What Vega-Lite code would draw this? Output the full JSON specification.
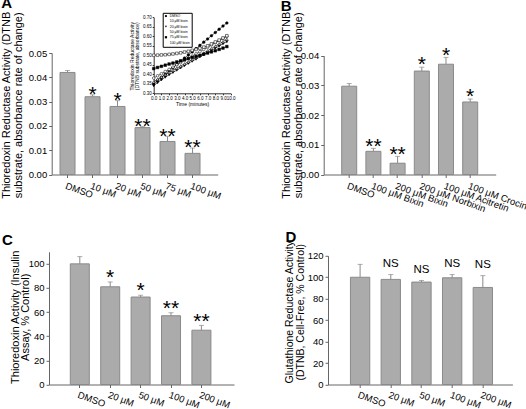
{
  "$schema": "https://vega.github.io/schema/vega-lite/v6.json",
  "padding": {"left": 0, "top": -5, "right": 0, "bottom": 0},
  "background": "white",
  "config": {
    "font": "Liberation Sans",
    "view": {"stroke": null},
    "axis": {"grid": false, "labelOverlap": false, "labelBound": false, "tickCount": 30, "domainColor": "#666", "tickColor": "#666", "labelColor": "black", "titleColor": "black", "labelFont": "Liberation Sans", "titleFont": "Liberation Sans", "titleFontWeight": "normal", "tickSize": 3, "labelFontSize": 9.5, "titleFontSize": 11, "titleAngle": -90, "titleAlign": "center", "titleBaseline": "bottom"},
    "axisX": {"titleAngle": 0, "titleBaseline": "top"},
    "title": {"font": "Liberation Sans", "fontWeight": "bold", "fontSize": 15, "anchor": "start", "frame": "group", "baseline": "alphabetic", "color": "black"}
  },
  "datasets": {
    "a": [
      {"label": "DMSO", "value": 0.0420, "err": 0.0428, "sig": ""},
      {"label": "10 μM", "value": 0.0320, "err": 0.0328, "sig": "*"},
      {"label": "20 μM", "value": 0.0280, "err": 0.0304, "sig": "*"},
      {"label": "50 μM", "value": 0.0193, "err": 0.0197, "sig": "**"},
      {"label": "75 μM", "value": 0.0136, "err": 0.0157, "sig": "**"},
      {"label": "100 μM", "value": 0.0087, "err": 0.0109, "sig": "**"}
    ],
    "b": [
      {"label": "DMSO", "value": 0.0297, "err": 0.0306, "sig": ""},
      {"label": "100 μM Bixin", "value": 0.0078, "err": 0.0088, "sig": "**"},
      {"label": "200 μM Bixin", "value": 0.0038, "err": 0.0061, "sig": "**"},
      {"label": "200 μM Norbixin", "value": 0.0348, "err": 0.0361, "sig": "*"},
      {"label": "100 μM Acitretin", "value": 0.0371, "err": 0.0394, "sig": "*"},
      {"label": "100 μM Crocin", "value": 0.0244, "err": 0.0254, "sig": "*"}
    ],
    "c": [
      {"label": "DMSO", "value": 100, "err": 106, "sig": ""},
      {"label": "20 μM", "value": 81, "err": 85, "sig": "*"},
      {"label": "50 μM", "value": 72.5, "err": 74, "sig": "*"},
      {"label": "100 μM", "value": 57, "err": 59.5, "sig": "**"},
      {"label": "200 μM", "value": 45, "err": 49, "sig": "**"}
    ],
    "d": [
      {"label": "DMSO", "value": 100, "err": 112, "sig": ""},
      {"label": "20 μM", "value": 98, "err": 102.5, "sig": "NS"},
      {"label": "50 μM", "value": 95.5, "err": 97, "sig": "NS"},
      {"label": "100 μM", "value": 99.5, "err": 102.5, "sig": "NS"},
      {"label": "200 μM", "value": 90.5, "err": 101.5, "sig": "NS"}
    ],
    "inset": [
      {"s": "DMSO", "t": 0, "v": 0.350}, {"s": "DMSO", "t": 0.5, "v": 0.367}, {"s": "DMSO", "t": 1, "v": 0.384}, {"s": "DMSO", "t": 1.5, "v": 0.400}, {"s": "DMSO", "t": 2, "v": 0.417}, {"s": "DMSO", "t": 2.5, "v": 0.434}, {"s": "DMSO", "t": 3, "v": 0.451}, {"s": "DMSO", "t": 3.5, "v": 0.468}, {"s": "DMSO", "t": 4, "v": 0.485}, {"s": "DMSO", "t": 4.5, "v": 0.502}, {"s": "DMSO", "t": 5, "v": 0.518}, {"s": "DMSO", "t": 5.5, "v": 0.535}, {"s": "DMSO", "t": 6, "v": 0.552}, {"s": "DMSO", "t": 6.5, "v": 0.569}, {"s": "DMSO", "t": 7, "v": 0.586}, {"s": "DMSO", "t": 7.5, "v": 0.603}, {"s": "DMSO", "t": 8, "v": 0.620}, {"s": "DMSO", "t": 8.5, "v": 0.637}, {"s": "DMSO", "t": 9, "v": 0.654}, {"s": "DMSO", "t": 9.5, "v": 0.670},
      {"s": "10 μM bixin", "t": 0, "v": 0.380}, {"s": "10 μM bixin", "t": 0.5, "v": 0.392}, {"s": "10 μM bixin", "t": 1, "v": 0.403}, {"s": "10 μM bixin", "t": 1.5, "v": 0.415}, {"s": "10 μM bixin", "t": 2, "v": 0.426}, {"s": "10 μM bixin", "t": 2.5, "v": 0.438}, {"s": "10 μM bixin", "t": 3, "v": 0.450}, {"s": "10 μM bixin", "t": 3.5, "v": 0.461}, {"s": "10 μM bixin", "t": 4, "v": 0.473}, {"s": "10 μM bixin", "t": 4.5, "v": 0.484}, {"s": "10 μM bixin", "t": 5, "v": 0.496}, {"s": "10 μM bixin", "t": 5.5, "v": 0.508}, {"s": "10 μM bixin", "t": 6, "v": 0.519}, {"s": "10 μM bixin", "t": 6.5, "v": 0.531}, {"s": "10 μM bixin", "t": 7, "v": 0.542}, {"s": "10 μM bixin", "t": 7.5, "v": 0.554}, {"s": "10 μM bixin", "t": 8, "v": 0.566}, {"s": "10 μM bixin", "t": 8.5, "v": 0.577}, {"s": "10 μM bixin", "t": 9, "v": 0.589}, {"s": "10 μM bixin", "t": 9.5, "v": 0.600},
      {"s": "20 μM bixin", "t": 0, "v": 0.340}, {"s": "20 μM bixin", "t": 0.5, "v": 0.356}, {"s": "20 μM bixin", "t": 1, "v": 0.371}, {"s": "20 μM bixin", "t": 1.5, "v": 0.385}, {"s": "20 μM bixin", "t": 2, "v": 0.398}, {"s": "20 μM bixin", "t": 2.5, "v": 0.410}, {"s": "20 μM bixin", "t": 3, "v": 0.422}, {"s": "20 μM bixin", "t": 3.5, "v": 0.434}, {"s": "20 μM bixin", "t": 4, "v": 0.446}, {"s": "20 μM bixin", "t": 4.5, "v": 0.458}, {"s": "20 μM bixin", "t": 5, "v": 0.469}, {"s": "20 μM bixin", "t": 5.5, "v": 0.480}, {"s": "20 μM bixin", "t": 6, "v": 0.492}, {"s": "20 μM bixin", "t": 6.5, "v": 0.503}, {"s": "20 μM bixin", "t": 7, "v": 0.514}, {"s": "20 μM bixin", "t": 7.5, "v": 0.526}, {"s": "20 μM bixin", "t": 8, "v": 0.538}, {"s": "20 μM bixin", "t": 8.5, "v": 0.549}, {"s": "20 μM bixin", "t": 9, "v": 0.561}, {"s": "20 μM bixin", "t": 9.5, "v": 0.572},
      {"s": "50 μM bixin", "t": 0, "v": 0.360}, {"s": "50 μM bixin", "t": 0.5, "v": 0.374}, {"s": "50 μM bixin", "t": 1, "v": 0.386}, {"s": "50 μM bixin", "t": 1.5, "v": 0.398}, {"s": "50 μM bixin", "t": 2, "v": 0.410}, {"s": "50 μM bixin", "t": 2.5, "v": 0.421}, {"s": "50 μM bixin", "t": 3, "v": 0.432}, {"s": "50 μM bixin", "t": 3.5, "v": 0.443}, {"s": "50 μM bixin", "t": 4, "v": 0.455}, {"s": "50 μM bixin", "t": 4.5, "v": 0.466}, {"s": "50 μM bixin", "t": 5, "v": 0.478}, {"s": "50 μM bixin", "t": 5.5, "v": 0.489}, {"s": "50 μM bixin", "t": 6, "v": 0.501}, {"s": "50 μM bixin", "t": 6.5, "v": 0.512}, {"s": "50 μM bixin", "t": 7, "v": 0.524}, {"s": "50 μM bixin", "t": 7.5, "v": 0.536}, {"s": "50 μM bixin", "t": 8, "v": 0.548}, {"s": "50 μM bixin", "t": 8.5, "v": 0.560}, {"s": "50 μM bixin", "t": 9, "v": 0.572}, {"s": "50 μM bixin", "t": 9.5, "v": 0.585},
      {"s": "75 μM bixin", "t": 0, "v": 0.430}, {"s": "75 μM bixin", "t": 0.5, "v": 0.436}, {"s": "75 μM bixin", "t": 1, "v": 0.442}, {"s": "75 μM bixin", "t": 1.5, "v": 0.448}, {"s": "75 μM bixin", "t": 2, "v": 0.454}, {"s": "75 μM bixin", "t": 2.5, "v": 0.459}, {"s": "75 μM bixin", "t": 3, "v": 0.465}, {"s": "75 μM bixin", "t": 3.5, "v": 0.471}, {"s": "75 μM bixin", "t": 4, "v": 0.477}, {"s": "75 μM bixin", "t": 4.5, "v": 0.483}, {"s": "75 μM bixin", "t": 5, "v": 0.489}, {"s": "75 μM bixin", "t": 5.5, "v": 0.494}, {"s": "75 μM bixin", "t": 6, "v": 0.500}, {"s": "75 μM bixin", "t": 6.5, "v": 0.506}, {"s": "75 μM bixin", "t": 7, "v": 0.512}, {"s": "75 μM bixin", "t": 7.5, "v": 0.518}, {"s": "75 μM bixin", "t": 8, "v": 0.524}, {"s": "75 μM bixin", "t": 8.5, "v": 0.531}, {"s": "75 μM bixin", "t": 9, "v": 0.538}, {"s": "75 μM bixin", "t": 9.5, "v": 0.546},
      {"s": "100 μM bixin", "t": 0, "v": 0.500}, {"s": "100 μM bixin", "t": 0.5, "v": 0.501}, {"s": "100 μM bixin", "t": 1, "v": 0.502}, {"s": "100 μM bixin", "t": 1.5, "v": 0.503}, {"s": "100 μM bixin", "t": 2, "v": 0.505}, {"s": "100 μM bixin", "t": 2.5, "v": 0.507}, {"s": "100 μM bixin", "t": 3, "v": 0.510}, {"s": "100 μM bixin", "t": 3.5, "v": 0.513}, {"s": "100 μM bixin", "t": 4, "v": 0.517}, {"s": "100 μM bixin", "t": 4.5, "v": 0.521}, {"s": "100 μM bixin", "t": 5, "v": 0.526}, {"s": "100 μM bixin", "t": 5.5, "v": 0.531}, {"s": "100 μM bixin", "t": 6, "v": 0.537}, {"s": "100 μM bixin", "t": 6.5, "v": 0.543}, {"s": "100 μM bixin", "t": 7, "v": 0.550}, {"s": "100 μM bixin", "t": 7.5, "v": 0.560}, {"s": "100 μM bixin", "t": 8, "v": 0.570}, {"s": "100 μM bixin", "t": 8.5, "v": 0.580}, {"s": "100 μM bixin", "t": 9, "v": 0.591}, {"s": "100 μM bixin", "t": 9.5, "v": 0.603}
    ]
  },
  "bounds": "flush",
  "columns": 2,
  "spacing": {"row": 76.8, "column": 89.7},
  "concat": [
    {
      "width": 168.7,
      "height": 121.5,
      "title": {"text": "A", "dx": -47.8, "offset": 0},
      "layer": [
        {
          "data": {"name": "a"},
          "encoding": {
            "x": {"field": "label", "type": "nominal", "sort": null,
              "scale": {"type": "band", "range": [2.7, 168.7], "paddingInner": 0.4, "paddingOuter": 0.52, "align": 0.32},
              "axis": {"orient": "bottom", "title": null, "labelAngle": 20, "labelAlign": "left", "labelBaseline": "top", "labelDx": -3, "labelPadding": 3, "labelFontSize": 9.5, "labelOverlap": false}}
          },
          "layer": [
            {"mark": {"type": "bar", "fill": "#ababab", "stroke": "#8a8a8a", "strokeWidth": 1},
             "encoding": {"y": {"field": "value", "type": "quantitative", "scale": {"domain": [0, 0.05], "nice": false},
               "axis": {"orient": "left", "offset": -2.7, "values": [0, 0.01, 0.02, 0.03, 0.04, 0.05], "tickCount": 30, "format": ".2f", "labelPadding": 2, "labelOverlap": false, "labelFlush": false,
                 "title": ["Thioredoxin Reductase Activity (DTNB", "substrate, absorbance rate of change)"], "titleX": -39.8, "titleY": 51.8, "titleLineHeight": 11.7}}}},
            {"mark": {"type": "rule", "color": "#8a8a8a", "strokeWidth": 1},
             "encoding": {"y": {"field": "value", "type": "quantitative"}, "y2": {"field": "err"}}},
            {"mark": {"type": "tick", "color": "#8a8a8a", "orient": "horizontal", "size": 5, "thickness": 1},
             "encoding": {"y": {"field": "err", "type": "quantitative"}}},
            {"mark": {"type": "text", "fontSize": 21, "dy": 6.2, "baseline": "alphabetic", "align": "center", "color": "black"},
             "encoding": {"y": {"field": "err", "type": "quantitative"}, "text": {"field": "sig"}}}
          ]
        },
        {
          "data": {"name": "inset"},
          "encoding": {
            "x": {"field": "t", "type": "quantitative",
              "scale": {"domain": [0, 10], "range": [104.7, 181.7], "nice": false, "zero": false},
              "axis": {"orient": "bottom", "offset": -81.2, "values": [0, 1, 2, 3, 4, 5, 6, 7, 8, 9, 10], "tickCount": 30, "title": "Time (minutes)", "labelOverlap": false, "labelFlush": false,
                "labelFontSize": 4.5, "titleFontSize": 5, "tickSize": 1.5, "labelPadding": 1, "titlePadding": 1.5, "domainColor": "#333", "tickColor": "#333", "labelAngle": 0, "labelAlign": "center"}},
            "y": {"field": "v", "type": "quantitative",
              "scale": {"domain": [0.3, 0.7], "range": [40.3, -35.7], "nice": false, "zero": false},
              "axis": {"orient": "left", "offset": -104.7, "values": [0.3, 0.35, 0.4, 0.45, 0.5, 0.55, 0.6, 0.65, 0.7], "tickCount": 30, "format": ".2f", "labelOverlap": false, "labelFlush": false,
                "labelFontSize": 4.5, "titleFontSize": 5, "tickSize": 1.5, "labelPadding": 1, "domainColor": "#333", "tickColor": "#333",
                "title": ["Thioredoxin Reductase Activity", "(DTNB substrate, absorbance)"], "titleX": -19.2, "titleY": 2.8, "titleLineHeight": 5}}
          },
          "layer": [
            {"mark": {"type": "line", "stroke": "black", "strokeWidth": 0.6},
             "encoding": {"detail": {"field": "s", "type": "nominal"}}},
            {"mark": {"type": "point", "stroke": "black", "strokeWidth": 0.5, "size": 7, "opacity": 1},
             "encoding": {
               "shape": {"field": "s", "type": "nominal",
                 "scale": {"domain": ["DMSO", "10 μM bixin", "20 μM bixin", "50 μM bixin", "75 μM bixin", "100 μM bixin"], "range": ["circle", "circle", "triangle-down", "triangle-up", "square", "square"]},
                 "legend": {"title": null, "orient": "none", "legendX": 113.7, "legendY": -40.2, "labelFontSize": 3.5, "symbolSize": 5, "rowPadding": 0.3, "padding": 1.5, "strokeColor": "black", "labelOffset": 2, "symbolStrokeWidth": 0.4, "symbolStrokeColor": "black"}},
               "fill": {"field": "s", "type": "nominal",
                 "scale": {"domain": ["DMSO", "10 μM bixin", "20 μM bixin", "50 μM bixin", "75 μM bixin", "100 μM bixin"], "range": ["black", "white", "black", "white", "black", "white"]},
                 "legend": {"title": null, "orient": "none", "legendX": 113.7, "legendY": -40.2, "labelFontSize": 3.5, "symbolSize": 5, "rowPadding": 0.3, "padding": 1.5, "strokeColor": "black", "labelOffset": 2, "symbolStrokeWidth": 0.4, "symbolStrokeColor": "black"}}
             }}
          ]
        }
      ],
      "resolve": {"scale": {"x": "independent", "y": "independent"}, "axis": {"x": "independent", "y": "independent"}}
    },
    {
      "width": 172,
      "height": 121.5,
      "title": {"text": "B", "dx": -43, "offset": -3.3},
      "data": {"name": "b"},
      "encoding": {
        "x": {"field": "label", "type": "nominal", "sort": null,
          "scale": {"type": "band", "paddingInner": 0.38, "paddingOuter": 0.744, "align": 0.5},
          "axis": {"orient": "bottom", "title": null, "labelAngle": 20, "labelAlign": "left", "labelBaseline": "top", "labelDx": -3, "labelPadding": 3, "labelFontSize": 9.5, "labelOverlap": false}}
      },
      "layer": [
        {"mark": {"type": "bar", "fill": "#ababab", "stroke": "#8a8a8a", "strokeWidth": 1},
         "encoding": {"y": {"field": "value", "type": "quantitative", "scale": {"domain": [0, 0.04], "nice": false, "range": [121.5, 2.6]},
           "axis": {"values": [0, 0.01, 0.02, 0.03, 0.04], "tickCount": 30, "format": ".2f", "labelPadding": 2, "labelOverlap": false, "labelFlush": false,
             "title": ["Thioredoxin Reductase Activity (DTNB", "substrate, absorbance rate of change)"], "titleX": -32.2, "titleY": 51.8, "titleLineHeight": 11.7}}}},
        {"mark": {"type": "rule", "color": "#8a8a8a", "strokeWidth": 1},
         "encoding": {"y": {"field": "value", "type": "quantitative"}, "y2": {"field": "err"}}},
        {"mark": {"type": "tick", "color": "#8a8a8a", "orient": "horizontal", "size": 5, "thickness": 1},
         "encoding": {"y": {"field": "err", "type": "quantitative"}}},
        {"mark": {"type": "text", "fontSize": 21, "dy": 4.2, "baseline": "alphabetic", "align": "center", "color": "black"},
         "encoding": {"y": {"field": "err", "type": "quantitative"}, "text": {"field": "sig"}}}
      ]
    },
    {
      "width": 185,
      "height": 132.7,
      "title": {"text": "C", "dx": -47, "dy": 5, "offset": -0.7},
      "data": {"name": "c"},
      "encoding": {
        "x": {"field": "label", "type": "nominal", "sort": null,
          "scale": {"type": "band", "paddingInner": 0.375, "paddingOuter": 0.73, "align": 0.48},
          "axis": {"orient": "bottom", "title": null, "labelAngle": 20, "labelAlign": "left", "labelBaseline": "top", "labelDx": -3, "labelPadding": 2, "labelFontSize": 9.5, "labelOverlap": false}}
      },
      "layer": [
        {"mark": {"type": "bar", "fill": "#ababab", "stroke": "#8a8a8a", "strokeWidth": 1},
         "encoding": {"y": {"field": "value", "type": "quantitative", "scale": {"domain": [0, 110], "nice": false},
           "axis": {"values": [0, 20, 40, 60, 80, 100], "tickCount": 30, "labelPadding": 2, "labelOverlap": false, "labelFlush": false,
             "title": ["Thioredoxin Activity (Insulin", "Assay, % Control)"], "titleX": -28.8, "titleY": 65, "titleLineHeight": 10.7}}}},
        {"mark": {"type": "rule", "color": "#8a8a8a", "strokeWidth": 1},
         "encoding": {"y": {"field": "value", "type": "quantitative"}, "y2": {"field": "err"}}},
        {"mark": {"type": "tick", "color": "#8a8a8a", "orient": "horizontal", "size": 5, "thickness": 1},
         "encoding": {"y": {"field": "err", "type": "quantitative"}}},
        {"mark": {"type": "text", "fontSize": 21, "dy": 2.2, "baseline": "alphabetic", "align": "center", "color": "black"},
         "encoding": {"y": {"field": "err", "type": "quantitative"}, "text": {"field": "sig"}}}
      ]
    },
    {
      "width": 188.7,
      "height": 132.7,
      "title": {"text": "D", "dx": -38.3, "dy": 1, "offset": -3.7},
      "data": {"name": "d"},
      "encoding": {
        "x": {"field": "label", "type": "nominal", "sort": null,
          "scale": {"type": "band", "range": [4.3, 188.7], "paddingInner": 0.37, "paddingOuter": 0.69, "align": 0.53},
          "axis": {"orient": "bottom", "title": null, "labelAngle": 20, "labelAlign": "left", "labelBaseline": "top", "labelDx": -3, "labelPadding": 2, "labelFontSize": 9.5, "labelOverlap": false}}
      },
      "layer": [
        {"mark": {"type": "bar", "fill": "#ababab", "stroke": "#8a8a8a", "strokeWidth": 1},
         "encoding": {"y": {"field": "value", "type": "quantitative", "scale": {"domain": [0, 120], "nice": false, "range": [132.7, 4]},
           "axis": {"offset": -4.3, "values": [0, 20, 40, 60, 80, 100, 120], "tickCount": 30, "labelPadding": 2, "labelOverlap": false, "labelFlush": false,
             "title": ["Glutathione Reductase Activity", "(DTNB, Cell-Free, % Control)"], "titleFontSize": 10.5, "titleX": -33.4, "titleY": 60, "titleLineHeight": 11}}}},
        {"mark": {"type": "rule", "color": "#8a8a8a", "strokeWidth": 1},
         "encoding": {"y": {"field": "value", "type": "quantitative"}, "y2": {"field": "err"}}},
        {"mark": {"type": "tick", "color": "#8a8a8a", "orient": "horizontal", "size": 5, "thickness": 1},
         "encoding": {"y": {"field": "err", "type": "quantitative"}}},
        {"mark": {"type": "text", "fontSize": 11.5, "dy": -7.5, "baseline": "alphabetic", "align": "center", "color": "black"},
         "encoding": {"y": {"field": "err", "type": "quantitative"}, "text": {"field": "sig"}}}
      ]
    }
  ]
}
